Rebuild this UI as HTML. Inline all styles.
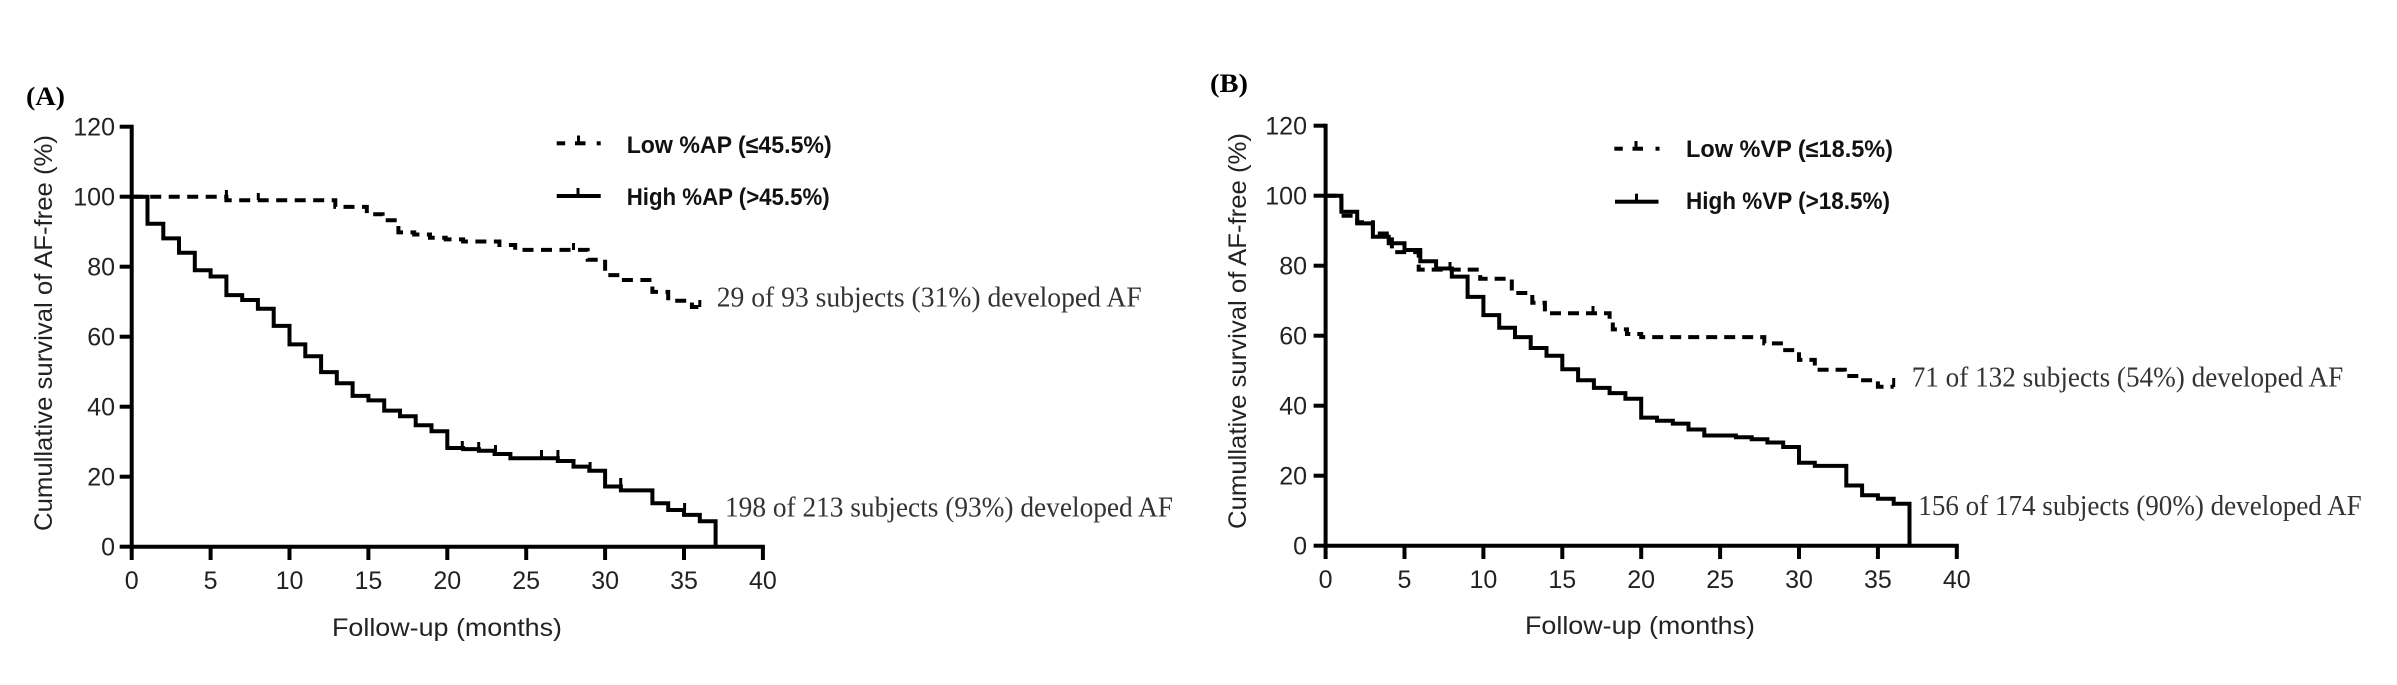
<!DOCTYPE html>
<html>
<head>
<meta charset="utf-8">
<style>
html,body{margin:0;padding:0;background:#fff;}
svg{display:block;}
.tk{font-family:"Liberation Sans",Arial,sans-serif;font-size:25px;fill:#222;}
.ax{font-family:"Liberation Sans",Arial,sans-serif;font-size:25px;fill:#222;}
.lg{font-family:"Liberation Sans",Arial,sans-serif;font-size:24px;font-weight:bold;fill:#111;}
.an{font-family:"Liberation Serif","Times New Roman",serif;font-size:28px;fill:#333;}
.pl{font-family:"Liberation Serif","Times New Roman",serif;font-size:26px;font-weight:bold;fill:#000;}
</style>
</head>
<body>
<svg width="2397" height="685" viewBox="0 0 2397 685" xmlns="http://www.w3.org/2000/svg">
<rect width="2397" height="685" fill="#fff"/>

<!-- ================= PANEL A ================= -->
<text class="pl" x="26" y="105" textLength="39" lengthAdjust="spacingAndGlyphs">(A)</text>

<!-- axes -->
<g stroke="#000" stroke-width="4" fill="none">
  <line x1="131.7" y1="124.7" x2="131.7" y2="548.7"/>
  <line x1="129.7" y1="546.7" x2="764.9" y2="546.7"/>
  <!-- y ticks -->
  <line x1="119.7" y1="126.7" x2="131.7" y2="126.7"/>
  <line x1="119.7" y1="196.7" x2="131.7" y2="196.7"/>
  <line x1="119.7" y1="266.7" x2="131.7" y2="266.7"/>
  <line x1="119.7" y1="336.7" x2="131.7" y2="336.7"/>
  <line x1="119.7" y1="406.7" x2="131.7" y2="406.7"/>
  <line x1="119.7" y1="476.7" x2="131.7" y2="476.7"/>
  <line x1="119.7" y1="546.7" x2="131.7" y2="546.7"/>
  <!-- x ticks -->
  <line x1="131.7" y1="546.7" x2="131.7" y2="560"/>
  <line x1="210.6" y1="546.7" x2="210.6" y2="560"/>
  <line x1="289.5" y1="546.7" x2="289.5" y2="560"/>
  <line x1="368.4" y1="546.7" x2="368.4" y2="560"/>
  <line x1="447.3" y1="546.7" x2="447.3" y2="560"/>
  <line x1="526.2" y1="546.7" x2="526.2" y2="560"/>
  <line x1="605.1" y1="546.7" x2="605.1" y2="560"/>
  <line x1="684.0" y1="546.7" x2="684.0" y2="560"/>
  <line x1="762.9" y1="546.7" x2="762.9" y2="560"/>
</g>

<g class="tk" text-anchor="end">
  <text x="115" y="135.7">120</text>
  <text x="115" y="205.7">100</text>
  <text x="115" y="275.7">80</text>
  <text x="115" y="345.7">60</text>
  <text x="115" y="415.7">40</text>
  <text x="115" y="485.7">20</text>
  <text x="115" y="555.7">0</text>
</g>
<g class="tk" text-anchor="middle">
  <text x="131.7" y="589">0</text>
  <text x="210.6" y="589">5</text>
  <text x="289.5" y="589">10</text>
  <text x="368.4" y="589">15</text>
  <text x="447.3" y="589">20</text>
  <text x="526.2" y="589">25</text>
  <text x="605.1" y="589">30</text>
  <text x="684.0" y="589">35</text>
  <text x="762.9" y="589">40</text>
</g>

<text class="ax" x="332" y="636" textLength="230" lengthAdjust="spacingAndGlyphs">Follow-up (months)</text>
<text class="ax" transform="translate(52,333) rotate(-90)" text-anchor="middle" textLength="396" lengthAdjust="spacingAndGlyphs">Cumullative survival of AF-free (%)</text>

<!-- curves A -->
<path d="M131.7,196.7 H147.5 V223.7 H163.3 V238.4 H179.0 V252.7 H194.8 V270.2 H210.6 V276.5 H226.4 V295.1 H242.2 V300.0 H257.9 V308.7 H273.7 V325.9 H289.5 V344.4 H305.3 V356.3 H321.1 V372.1 H336.8 V383.3 H352.6 V395.9 H368.4 V400.4 H384.2 V410.6 H400.0 V416.2 H415.7 V425.3 H431.5 V431.2 H447.3 V448.0 H463.1 V449.1 H478.9 V450.8 H494.6 V454.0 H510.4 V458.2 H557.8 V461.0 H573.5 V466.6 H589.3 V470.8 H605.1 V486.5 H620.9 V490.4 H652.4 V503.3 H668.2 V510.0 H684.0 V514.9 H699.8 V521.2 H715.6 V546.7" fill="none" stroke="#000" stroke-width="4" stroke-linejoin="miter"/>
<g stroke="#000" stroke-width="3">
  <line x1="462.3" y1="448" x2="462.3" y2="441"/>
  <line x1="478.7" y1="449" x2="478.7" y2="442"/>
  <line x1="495.5" y1="452" x2="495.5" y2="445"/>
  <line x1="541.5" y1="457" x2="541.5" y2="450"/>
  <line x1="557.9" y1="457" x2="557.9" y2="450"/>
  <line x1="590.1" y1="469" x2="590.1" y2="462"/>
  <line x1="620.7" y1="485" x2="620.7" y2="478"/>
  <line x1="684.6" y1="510" x2="684.6" y2="503"/>
</g>

<path d="M131.7,196.7 H226.4 V200.2 H335.3 V206.9 H366.8 V214.2 H382.6 V220.2 H398.4 V232.4 H414.2 V234.5 H430.0 V237.7 H445.7 V239.4 H463.1 V241.5 H499.4 V245.0 H515.2 V249.9 H587.7 V259.7 H605.1 V275.1 H620.9 V280.0 H652.4 V291.9 H668.2 V300.7 H691.9 V307.0 H699.8" fill="none" stroke="#000" stroke-width="4" stroke-dasharray="11 7.5"/>
<g stroke="#000" stroke-width="3">
  <line x1="226.4" y1="197" x2="226.4" y2="190"/>
  <line x1="258.3" y1="200" x2="258.3" y2="193"/>
  <line x1="573.5" y1="250" x2="573.5" y2="243"/>
  <line x1="699.8" y1="307" x2="699.8" y2="300"/>
</g>

<!-- legend A -->
<g fill="#000">
  <rect x="556.7" y="141.3" width="8.5" height="4"/>
  <rect x="575" y="141.3" width="10.5" height="4"/>
  <rect x="577" y="135.5" width="3" height="8"/>
  <rect x="596.7" y="141.3" width="4" height="4"/>
  <rect x="556.7" y="194" width="44" height="4"/>
  <rect x="576.5" y="188" width="3" height="8"/>
</g>
<text class="lg" x="626.7" y="153" textLength="205" lengthAdjust="spacingAndGlyphs">Low %AP (≤45.5%)</text>
<text class="lg" x="626.7" y="205" textLength="203" lengthAdjust="spacingAndGlyphs">High %AP (&gt;45.5%)</text>

<text class="an" x="716.7" y="306.7" textLength="425" lengthAdjust="spacingAndGlyphs">29 of 93 subjects (31%) developed AF</text>
<text class="an" x="725" y="516.7" textLength="448" lengthAdjust="spacingAndGlyphs">198 of 213 subjects (93%) developed AF</text>

<!-- ================= PANEL B ================= -->
<text class="pl" x="1210" y="92" textLength="38" lengthAdjust="spacingAndGlyphs">(B)</text>

<g stroke="#000" stroke-width="4" fill="none">
  <line x1="1325.6" y1="123.7" x2="1325.6" y2="547.7"/>
  <line x1="1323.6" y1="545.7" x2="1958.8" y2="545.7"/>
  <line x1="1313.6" y1="125.7" x2="1325.6" y2="125.7"/>
  <line x1="1313.6" y1="195.7" x2="1325.6" y2="195.7"/>
  <line x1="1313.6" y1="265.7" x2="1325.6" y2="265.7"/>
  <line x1="1313.6" y1="335.7" x2="1325.6" y2="335.7"/>
  <line x1="1313.6" y1="405.7" x2="1325.6" y2="405.7"/>
  <line x1="1313.6" y1="475.7" x2="1325.6" y2="475.7"/>
  <line x1="1313.6" y1="545.7" x2="1325.6" y2="545.7"/>
  <line x1="1325.6" y1="545.7" x2="1325.6" y2="559"/>
  <line x1="1404.5" y1="545.7" x2="1404.5" y2="559"/>
  <line x1="1483.4" y1="545.7" x2="1483.4" y2="559"/>
  <line x1="1562.3" y1="545.7" x2="1562.3" y2="559"/>
  <line x1="1641.2" y1="545.7" x2="1641.2" y2="559"/>
  <line x1="1720.1" y1="545.7" x2="1720.1" y2="559"/>
  <line x1="1799.0" y1="545.7" x2="1799.0" y2="559"/>
  <line x1="1877.9" y1="545.7" x2="1877.9" y2="559"/>
  <line x1="1956.8" y1="545.7" x2="1956.8" y2="559"/>
</g>

<g class="tk" text-anchor="end">
  <text x="1307" y="134.7">120</text>
  <text x="1307" y="204.7">100</text>
  <text x="1307" y="274.7">80</text>
  <text x="1307" y="344.7">60</text>
  <text x="1307" y="414.7">40</text>
  <text x="1307" y="484.7">20</text>
  <text x="1307" y="554.7">0</text>
</g>
<g class="tk" text-anchor="middle">
  <text x="1325.6" y="588">0</text>
  <text x="1404.5" y="588">5</text>
  <text x="1483.4" y="588">10</text>
  <text x="1562.3" y="588">15</text>
  <text x="1641.2" y="588">20</text>
  <text x="1720.1" y="588">25</text>
  <text x="1799.0" y="588">30</text>
  <text x="1877.9" y="588">35</text>
  <text x="1956.8" y="588">40</text>
</g>

<text class="ax" x="1525" y="634" textLength="230" lengthAdjust="spacingAndGlyphs">Follow-up (months)</text>
<text class="ax" transform="translate(1246,331) rotate(-90)" text-anchor="middle" textLength="396" lengthAdjust="spacingAndGlyphs">Cumullative survival of AF-free (%)</text>

<!-- curves B -->
<path d="M1325.6,195.7 H1341.4 V211.8 H1357.2 V223.4 H1372.9 V236.7 H1388.7 V243.3 H1404.5 V250.0 H1420.3 V261.2 H1436.1 V268.5 H1451.8 V276.6 H1467.6 V296.9 H1483.4 V315.1 H1499.2 V327.7 H1515.0 V337.1 H1530.7 V348.0 H1546.5 V355.7 H1562.3 V369.3 H1578.1 V380.2 H1593.9 V387.9 H1609.6 V393.1 H1625.4 V398.7 H1641.2 V417.6 H1657.0 V420.8 H1672.8 V423.6 H1688.5 V429.5 H1704.3 V435.5 H1735.9 V437.2 H1751.7 V439.3 H1767.4 V442.5 H1783.2 V447.0 H1799.0 V462.8 H1814.8 V465.9 H1846.3 V485.5 H1862.1 V495.3 H1877.9 V498.8 H1893.7 V503.7 H1909.5 V545.7" fill="none" stroke="#000" stroke-width="4"/>

<path d="M1325.6,195.7 H1341.4 V215.7 H1357.2 V222.3 H1372.9 V233.5 H1391.9 V252.1 H1418.7 V269.6 H1480.2 V278.7 H1511.8 V293.0 H1532.3 V302.8 H1544.9 V313.3 H1609.6 V318.9 H1612.8 V329.4 H1627.0 V334.0 H1641.2 V337.1 H1764.3 V343.4 H1783.2 V350.1 H1799.0 V359.9 H1814.8 V369.7 H1844.8 V376.0 H1860.5 V380.2 H1877.9 V386.8 H1893.7" fill="none" stroke="#000" stroke-width="4" stroke-dasharray="11 7"/>
<g stroke="#000" stroke-width="3">
  <line x1="1450" y1="270" x2="1450" y2="262"/>
  <line x1="1593" y1="313" x2="1593" y2="306"/>
  <line x1="1893.7" y1="387" x2="1893.7" y2="378"/>
</g>

<!-- legend B -->
<g fill="#000">
  <rect x="1614.3" y="146.7" width="8.5" height="4"/>
  <rect x="1632.5" y="146.7" width="10.5" height="4"/>
  <rect x="1634.5" y="141" width="3" height="8"/>
  <rect x="1655.5" y="146.7" width="4" height="4"/>
  <rect x="1615" y="199.7" width="43.5" height="4"/>
  <rect x="1635" y="193.7" width="3" height="8"/>
</g>
<text class="lg" x="1686" y="157" textLength="207" lengthAdjust="spacingAndGlyphs">Low %VP (≤18.5%)</text>
<text class="lg" x="1686" y="209" textLength="204" lengthAdjust="spacingAndGlyphs">High %VP (&gt;18.5%)</text>

<text class="an" x="1911.7" y="386.7" textLength="431.6" lengthAdjust="spacingAndGlyphs">71 of 132 subjects (54%) developed AF</text>
<text class="an" x="1918.3" y="515" textLength="443.4" lengthAdjust="spacingAndGlyphs">156 of 174 subjects (90%) developed AF</text>
</svg>
</body>
</html>
